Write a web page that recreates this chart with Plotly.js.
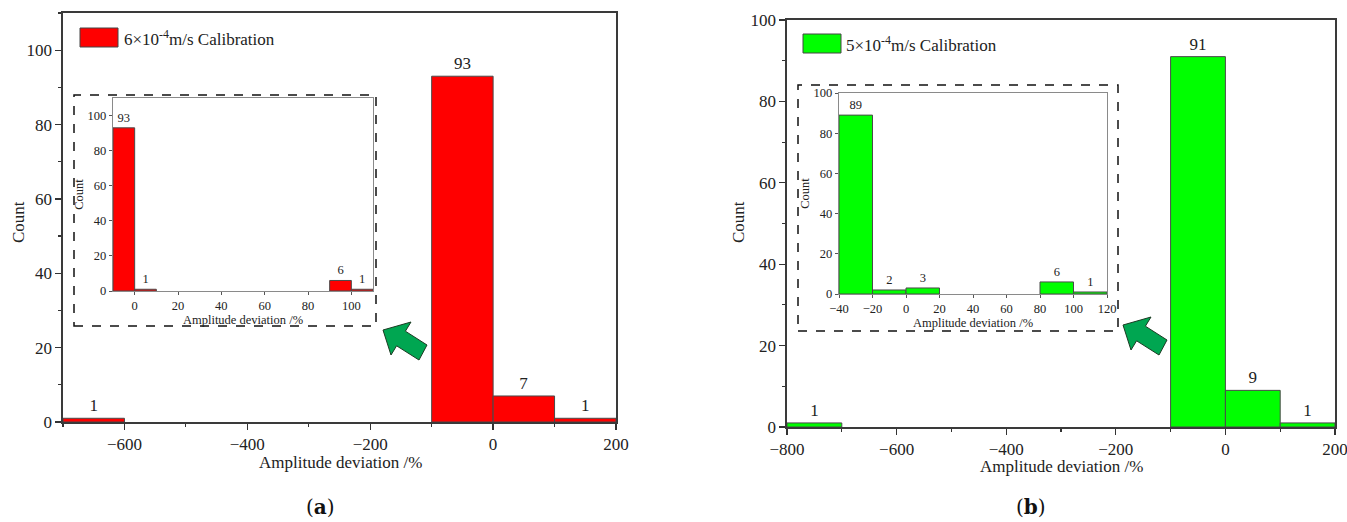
<!DOCTYPE html>
<html>
<head>
<meta charset="utf-8">
<script src="https://cdn.plot.ly/plotly-3.0.1.min.js"></script>
<style>html,body{margin:0;padding:0;background:#fff;}#chart{width:1347px;height:522px;}</style>
</head>
<body>
<div id="chart"></div>
<script>
// ---- data ----
const binWidthMainA = 100;
const binLeftMainA = [-700, -100, 0, 100];
const countsMainA = [1, 93, 7, 1];

const binWidthInsetA = 10;
const binLeftInsetA = [-10, 0, 90, 100];
const countsInsetA = [93, 1, 6, 1];

const binWidthMainB = 100;
const binLeftMainB = [-800, -100, 0, 100];
const countsMainB = [1, 91, 9, 1];

const binWidthInsetB = 20;
const binLeftInsetB = [-40, -20, 0, 80, 100];
const countsInsetB = [89, 2, 3, 6, 1];

const legendA = '6×10<sup>-4</sup>m/s Calibration';
const legendB = '5×10<sup>-4</sup>m/s Calibration';
const xTitle = 'Amplitude deviation /%';
const yTitle = 'Count';

// ---- helpers ----
const W = 1347, H = 522;
const px = x => x / W;
const py = y => 1 - y / H;
const centers = (lefts, w) => lefts.map(l => l + w / 2);
const FONT = '"Liberation Serif", "Times New Roman", serif';
const RED = '#ff0000', GREEN = '#00ff00';

function barTrace(lefts, w, counts, color, xa, ya, fs) {
  return {
    type: 'bar', x: centers(lefts, w), y: counts, width: lefts.map(() => w),
    xaxis: xa, yaxis: ya,
    marker: {color: color, line: {color: '#4a4a4a', width: 1}},
    text: counts.map(String), textposition: 'outside', constraintext: 'none',
    textfont: {family: FONT, size: fs, color: '#222'}, cliponaxis: false,
    hoverinfo: 'x+y', showlegend: false
  };
}

const data = [
  barTrace(binLeftMainA, binWidthMainA, countsMainA, RED, 'x', 'y', 17),
  barTrace(binLeftInsetA, binWidthInsetA, countsInsetA, RED, 'x2', 'y2', 12.5),
  barTrace(binLeftMainB, binWidthMainB, countsMainB, GREEN, 'x3', 'y3', 17),
  barTrace(binLeftInsetB, binWidthInsetB, countsInsetB, GREEN, 'x4', 'y4', 12.5)
];

function mainAxis(domain, range, dtick, minor, anchor) {
  return {
    domain: domain, range: range, anchor: anchor, dtick: dtick, tick0: 0,
    ticks: 'outside', ticklen: 6, tickwidth: 1.3, tickcolor: '#333',
    minor: {ticks: 'outside', dtick: minor, tick0: 0, ticklen: 3, tickwidth: 1.2, tickcolor: '#333'},
    showline: true, linecolor: '#3a3a3a', linewidth: 1.6, mirror: true,
    showgrid: false, zeroline: false, fixedrange: true, ticklabeloverflow: 'allow',
    tickfont: {family: FONT, size: 17, color: '#222'}
  };
}
function insetAxis(domain, range, dtick, anchor, title, standoff) {
  return {
    domain: domain, range: range, anchor: anchor, dtick: dtick, tick0: 0,
    ticks: 'outside', ticklen: 3, tickwidth: 1, tickcolor: '#555',
    showline: true, linecolor: '#8a8a8a', linewidth: 1.2, mirror: true,
    showgrid: false, zeroline: false, fixedrange: true,
    tickfont: {family: FONT, size: 12.5, color: '#222'},
    title: {text: title, font: {family: FONT, size: 12.5, color: '#222'}, standoff: standoff}
  };
}

function arrowPath(pts) {
  return 'M ' + pts.map(p => px(p[0]) + ',' + py(p[1])).join(' L ') + ' Z';
}
const arrowA = [[383,330],[411,322],[405.4,331.2],[427,345],[419,360],[396.6,345.8],[391,355]];
const arrowB = arrowA.map(p => [p[0] + 740, p[1] - 5]);

const shapes = [
  {type: 'rect', xref: 'paper', yref: 'paper', x0: px(74), x1: px(376), y0: py(326), y1: py(95),
   line: {color: '#111', width: 1.5, dash: 'dash'}, fillcolor: 'rgba(0,0,0,0)', layer: 'above'},
  {type: 'rect', xref: 'paper', yref: 'paper', x0: px(798), x1: px(1118), y0: py(331), y1: py(85),
   line: {color: '#111', width: 1.5, dash: 'dash'}, fillcolor: 'rgba(0,0,0,0)', layer: 'above'},
  {type: 'path', xref: 'paper', yref: 'paper', path: arrowPath(arrowA),
   fillcolor: '#00a651', line: {color: '#1b3b22', width: 1}, layer: 'above'},
  {type: 'path', xref: 'paper', yref: 'paper', path: arrowPath(arrowB),
   fillcolor: '#00a651', line: {color: '#1b3b22', width: 1}, layer: 'above'},
  {type: 'rect', xref: 'paper', yref: 'paper', x0: px(80), x1: px(118), y0: py(47), y1: py(28),
   fillcolor: RED, line: {color: '#444', width: 1}, layer: 'above'},
  {type: 'rect', xref: 'paper', yref: 'paper', x0: px(803), x1: px(841), y0: py(53), y1: py(34),
   fillcolor: GREEN, line: {color: '#444', width: 1}, layer: 'above'}
];

const tf = {family: FONT, size: 17, color: '#222'};
const annotations = [
  {xref: 'paper', yref: 'paper', x: px(122), y: py(38), xanchor: 'left', yanchor: 'middle',
   text: legendA, showarrow: false, font: tf},
  {xref: 'paper', yref: 'paper', x: px(844), y: py(44), xanchor: 'left', yanchor: 'middle',
   text: legendB, showarrow: false, font: tf},
  // main axis titles
  {xref: 'paper', yref: 'paper', x: px(340), y: py(462), xanchor: 'center', yanchor: 'middle',
   text: xTitle, showarrow: false, font: tf},
  {xref: 'paper', yref: 'paper', x: px(1061), y: py(466), xanchor: 'center', yanchor: 'middle',
   text: xTitle, showarrow: false, font: tf},
  {xref: 'paper', yref: 'paper', x: px(18), y: py(222), xanchor: 'center', yanchor: 'middle',
   text: yTitle, textangle: -90, showarrow: false, font: tf},
  {xref: 'paper', yref: 'paper', x: px(738), y: py(222), xanchor: 'center', yanchor: 'middle',
   text: yTitle, textangle: -90, showarrow: false, font: tf},
  // panel captions
  {xref: 'paper', yref: 'paper', x: px(320), y: py(507), xanchor: 'center', yanchor: 'middle',
   text: '(<b>a</b>)', showarrow: false, font: {family: 'DejaVu Serif, serif', size: 20, color: '#111'}},
  {xref: 'paper', yref: 'paper', x: px(1031), y: py(507), xanchor: 'center', yanchor: 'middle',
   text: '(<b>b</b>)', showarrow: false, font: {family: 'DejaVu Serif, serif', size: 20, color: '#111'}}
];

const layout = {
  width: W, height: H, margin: {l: 0, r: 0, t: 0, b: 0},
  paper_bgcolor: '#fff', plot_bgcolor: '#fff', showlegend: false, bargap: 0,
  xaxis: mainAxis([px(63), px(616)], [-700, 200], 200, 100, 'y'),
  yaxis: mainAxis([py(422), py(13)], [0, 110], 20, 10, 'x'),
  xaxis2: insetAxis([px(113), px(373)], [-10, 110], 20, 'y2', xTitle, 1),
  yaxis2: insetAxis([py(291), py(98)], [0, 110], 20, 'x2', yTitle, 1),
  xaxis3: mainAxis([px(787), px(1335)], [-800, 200], 200, 100, 'y3'),
  yaxis3: mainAxis([py(427), py(20)], [0, 100], 20, 10, 'x3'),
  xaxis4: insetAxis([px(839), px(1107)], [-40, 120], 20, 'y4', xTitle, 1),
  yaxis4: insetAxis([py(294), py(93)], [0, 100], 20, 'x4', yTitle, 1),
  shapes: shapes, annotations: annotations
};

Plotly.newPlot('chart', data, layout, {displayModeBar: false, staticPlot: true});
</script>
</body>
</html>
